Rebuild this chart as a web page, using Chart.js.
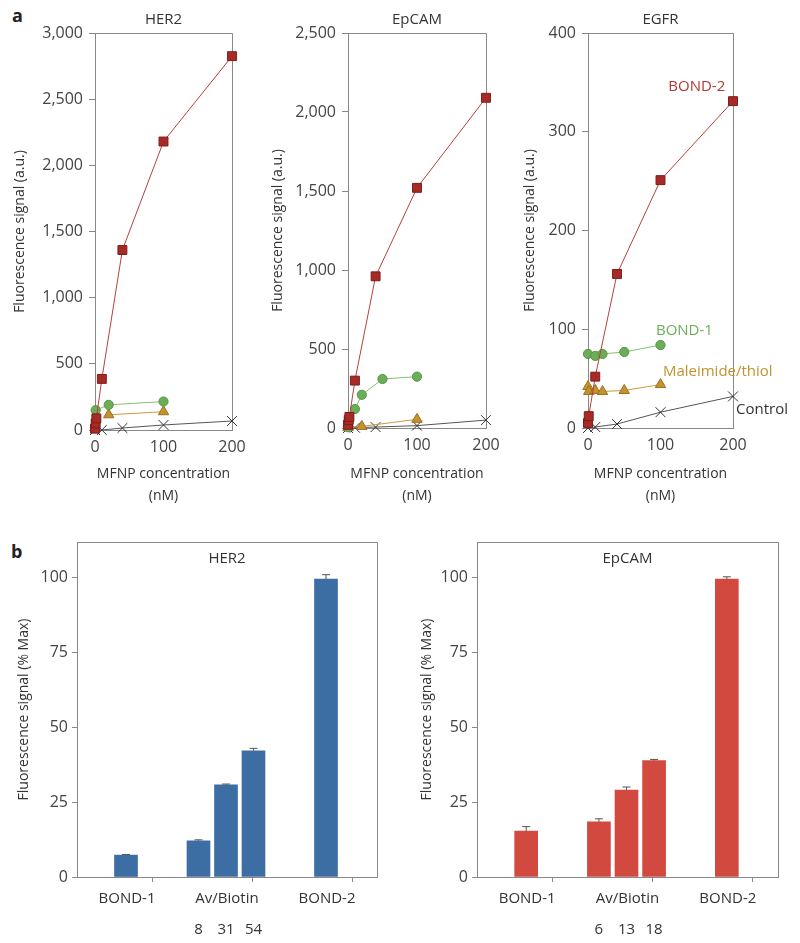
<!DOCTYPE html>
<html>
<head>
<meta charset="utf-8">
<script src="https://cdn.jsdelivr.net/npm/chart.js@4.4.1/dist/chart.umd.min.js"></script>
<style>
  body { margin: 0; background: #fff; }
  #page { position: relative; width: 800px; height: 943px; overflow: hidden; }
  canvas { position: absolute; }
  .tag { position: absolute; font: bold 18px 'Open Sans', sans-serif; color: #222; }
</style>
</head>
<body>
<div id="page">
  <div class="tag" style="left:12px;top:3px">a</div>
  <div class="tag" style="left:11px;top:539px">b</div>
  <canvas id="aHER2" width="260" height="510" style="left:0;top:0"></canvas>
  <canvas id="aEpCAM" width="258" height="510" style="left:262px;top:0"></canvas>
  <canvas id="aEGFR" width="280" height="510" style="left:520px;top:0"></canvas>
  <canvas id="bHER2" width="400" height="428" style="left:0;top:515px"></canvas>
  <canvas id="bEpCAM" width="400" height="428" style="left:400px;top:515px"></canvas>
</div>
<script>
// panel a: signal vs MFNP concentration (nM)
var seriesNames = ['BOND-2', 'BOND-1', 'Maleimide/thiol', 'Control'];

var her2Bond2X = [0, 1, 2, 10, 40, 100, 200];
var her2Bond2Y = [10, 50, 88, 386, 1360, 2180, 2825];
var her2Bond1X = [1, 20, 100];
var her2Bond1Y = [150, 190, 215];
var her2MalX = [20, 100];
var her2MalY = [115, 138];
var her2CtrlX = [0, 10, 40, 100, 200];
var her2CtrlY = [0, 0, 15, 38, 68];

var epcamBond2X = [0, 1, 2, 10, 40, 100, 200];
var epcamBond2Y = [20, 50, 70, 300, 960, 1520, 2090];
var epcamBond1X = [0, 1, 10, 20, 50, 100];
var epcamBond1Y = [5, 40, 120, 210, 310, 325];
var epcamMalX = [0, 20, 100];
var epcamMalY = [2, 10, 55];
var epcamCtrlX = [0, 10, 40, 100, 200];
var epcamCtrlY = [0, 2, 6, 15, 50];

var egfrBond2X = [0, 1, 10, 40, 100, 200];
var egfrBond2Y = [5, 12, 52, 156, 251, 331];
var egfrBond1X = [0, 10, 20, 50, 100];
var egfrBond1Y = [75, 73, 75, 77, 84];
var egfrMalX = [0, 1, 10, 20, 50, 100];
var egfrMalY = [42, 37, 38, 37, 38, 44];
var egfrCtrlX = [0, 10, 40, 100, 200];
var egfrCtrlY = [0, 1, 4, 16, 32];

// panel b: % of max signal
var groups = ['BOND-1', 'Av/Biotin', 'BOND-2'];
var barGroup = [0, 1, 1, 1, 2];
var barSlot = [0, -1, 0, 1, 0];
var her2Bars = [7.3, 12.1, 30.7, 42.1, 99.3];
var her2Err = [0.2, 0.3, 0.3, 0.8, 1.5];
var her2Sub = ['', '8', '31', '54', ''];
var epcamBars = [15.3, 18.4, 29.0, 38.8, 99.3];
var epcamErr = [1.5, 1.0, 1.0, 0.4, 0.8];
var epcamSub = ['', '6', '13', '18', ''];

Chart.defaults.font.family = "'Open Sans', sans-serif";
Chart.defaults.color = '#333';

var seriesLook = [
    { pointStyle: 'rect', pointRadius: 6.3, pointBackgroundColor: '#a82a26', pointBorderColor: '#7d1d1a', borderColor: '#b5413b' },
    { pointStyle: 'circle', pointRadius: 4.6, pointBackgroundColor: '#6cae58', pointBorderColor: '#54963f', borderColor: '#86c074' },
    { pointStyle: 'triangle', pointRadius: 6, pointBackgroundColor: '#c4922e', pointBorderColor: '#9d7020', borderColor: '#c99a3e' },
    { pointStyle: 'crossRot', pointRadius: 7, pointBackgroundColor: '#333', pointBorderColor: '#333', borderColor: '#555' }
];

var panelTitle = {
    id: 'panelTitle',
    afterDraw: function (chart, args, opts) {
        var ctx = chart.ctx, a = chart.chartArea;
        ctx.save();
        ctx.font = "15px 'Open Sans', sans-serif";
        ctx.fillStyle = '#333';
        ctx.textAlign = 'center';
        ctx.textBaseline = 'middle';
        ctx.fillText(opts.text, (a.left + a.right) / 2, a.top + opts.offset);
        ctx.restore();
    }
};

var frame = {
    id: 'frame',
    beforeDatasetsDraw: function (chart) {
        var ctx = chart.ctx, a = chart.chartArea;
        ctx.save();
        ctx.strokeStyle = '#888';
        ctx.lineWidth = 1;
        ctx.beginPath();
        ctx.moveTo(a.left, Math.round(a.top) + 0.5);
        ctx.lineTo(Math.round(a.right) + 0.5, Math.round(a.top) + 0.5);
        ctx.lineTo(Math.round(a.right) + 0.5, a.bottom);
        ctx.stroke();
        ctx.restore();
    }
};

var notes = {
    id: 'notes',
    afterDraw: function (chart, args, opts) {
        var ctx = chart.ctx;
        (opts.items || []).forEach(function (n) {
            ctx.save();
            ctx.font = "15px 'Open Sans', sans-serif";
            ctx.fillStyle = n.color;
            ctx.textAlign = 'center';
            ctx.textBaseline = 'middle';
            ctx.fillText(n.text, chart.scales.x.getPixelForValue(n.x), chart.scales.y.getPixelForValue(n.y));
            ctx.restore();
        });
    }
};

var errorBars = {
    id: 'errorBars',
    afterDatasetsDraw: function (chart) {
        var ctx = chart.ctx, y = chart.scales.y;
        chart.data.datasets.forEach(function (ds, di) {
            if (!ds.errors) return;
            chart.getDatasetMeta(di).data.forEach(function (bar, i) {
                var top = y.getPixelForValue(ds.data[i].y + ds.errors[i]);
                ctx.save();
                ctx.strokeStyle = ds.errorColor;
                ctx.lineWidth = 1;
                ctx.beginPath();
                ctx.moveTo(bar.x, bar.y);
                ctx.lineTo(bar.x, top);
                ctx.moveTo(bar.x - 4, top);
                ctx.lineTo(bar.x + 4, top);
                ctx.stroke();
                // sub labels under the bars
                if (ds.subs && ds.subs[i]) {
                    ctx.font = "15px 'Open Sans', sans-serif";
                    ctx.fillStyle = '#333';
                    ctx.textAlign = 'center';
                    ctx.textBaseline = 'middle';
                    ctx.fillText(ds.subs[i], bar.x, chart.chartArea.bottom + 53);
                }
                ctx.restore();
            });
        });
    }
};

function lineSets(xsList, ysList) {
    return xsList.map(function (xs, k) {
        return Object.assign({
            label: seriesNames[k],
            data: xs.map(function (x, i) { return { x: x, y: ysList[k][i] }; }),
            borderWidth: 1,
            pointBorderWidth: 1,
            tension: 0,
            clip: false
        }, seriesLook[k]);
    });
}

function linePanel(id, name, yMax, yStep, datasets, g, items) {
    return new Chart(document.getElementById(id), {
        type: 'line',
        data: { datasets: datasets },
        options: {
            responsive: false,
            animation: false,
            events: [],
            layout: { padding: { top: 33, right: g.padRight, left: 0, bottom: 0 } },
            plugins: {
                legend: { display: false },
                tooltip: { enabled: false },
                panelTitle: { text: name, offset: -13 },
                notes: { items: items || [] }
            },
            scales: {
                x: {
                    type: 'linear', min: 0, max: 200,
                    afterFit: function (s) { s.height = g.xHeight; },
                    ticks: { stepSize: 100, padding: 8, font: { size: 16 }, color: '#444' },
                    grid: { drawOnChartArea: false, drawTicks: false },
                    border: { color: '#888' },
                    title: { display: true, text: ['MFNP concentration', '(nM)'], font: { size: 14, lineHeight: 1.55 }, padding: { top: 0, bottom: 3 }, color: '#333' }
                },
                y: {
                    min: 0, max: yMax,
                    afterFit: function (s) { s.width = g.yWidth; },
                    ticks: { stepSize: yStep, padding: 6, font: { size: 16 }, color: '#444',
                        callback: function (v) { return v.toLocaleString('en-US'); } },
                    grid: { drawOnChartArea: false, tickLength: 6, color: '#888' },
                    border: { color: '#888' },
                    title: { display: true, text: 'Fluorescence signal (a.u.)', font: { size: 14 }, padding: { top: g.yTitlePad, bottom: 0 }, color: '#333' }
                }
            }
        },
        plugins: [frame, panelTitle, notes]
    });
}

function barPanel(id, name, values, errors, subs, color, g) {
    return new Chart(document.getElementById(id), {
        type: 'bar',
        data: {
            datasets: [{
                data: values.map(function (v, i) { return { x: barGroup[i] + 0.49 + barSlot[i] * 0.275, y: v }; }),
                backgroundColor: color,
                borderWidth: 0,
                barThickness: 23,
                errors: errors,
                errorColor: '#555',
                subs: subs
            }]
        },
        options: {
            responsive: false,
            animation: false,
            events: [],
            layout: { padding: { top: 27, right: g.padRight, left: 0, bottom: 0 } },
            plugins: {
                legend: { display: false },
                tooltip: { enabled: false },
                panelTitle: { text: name, offset: 17 }
            },
            scales: {
                x: {
                    type: 'linear', min: 0, max: 3, offset: false,
                    afterFit: function (s) { s.height = 66; },
                    afterBuildTicks: function (s) {
                        s.ticks = [0, 0.5, 1, 1.5, 2, 2.5, 3].map(function (v) { return { value: v }; });
                    },
                    ticks: { autoSkip: false, maxRotation: 0, padding: 8, font: { size: 15 }, color: '#333',
                        callback: function (v) { return Number.isInteger(v) ? '' : groups[Math.floor(v)]; } },
                    grid: { drawOnChartArea: false, tickLength: 5,
                        tickColor: function (c) { return c.tick && Number.isInteger(c.tick.value) ? '#888' : 'rgba(0,0,0,0)'; } },
                    border: { color: '#888' }
                },
                y: {
                    min: 0, max: 111.7,
                    afterFit: function (s) { s.width = 77; },
                    ticks: { stepSize: 25, includeBounds: false, padding: 4, font: { size: 16 }, color: '#444' },
                    grid: { drawOnChartArea: false, tickLength: 5, color: '#888' },
                    border: { color: '#888' },
                    title: { display: true, text: 'Fluorescence signal (% Max)', font: { size: 14 }, padding: { top: g.yTitlePad, bottom: 0 }, color: '#333' }
                }
            }
        },
        plugins: [frame, panelTitle, errorBars]
    });
}

linePanel('aHER2', 'HER2', 3000, 500,
    lineSets([her2Bond2X, her2Bond1X, her2MalX, her2CtrlX], [her2Bond2Y, her2Bond1Y, her2MalY, her2CtrlY]),
    { yWidth: 95, padRight: 28, xHeight: 80, yTitlePad: 12 });

linePanel('aEpCAM', 'EpCAM', 2500, 500,
    lineSets([epcamBond2X, epcamBond1X, epcamMalX, epcamCtrlX], [epcamBond2Y, epcamBond1Y, epcamMalY, epcamCtrlY]),
    { yWidth: 86, padRight: 34, xHeight: 82, yTitlePad: 8 });

linePanel('aEGFR', 'EGFR', 400, 100,
    lineSets([egfrBond2X, egfrBond1X, egfrMalX, egfrCtrlX], [egfrBond2Y, egfrBond1Y, egfrMalY, egfrCtrlY]),
    { yWidth: 68, padRight: 67, xHeight: 82, yTitlePad: 2 },
    [
        { text: 'BOND-2', x: 150, y: 346, color: '#b03a33' },
        { text: 'BOND-1', x: 133, y: 99, color: '#6cae58' },
        { text: 'Maleimide/thiol', x: 179, y: 57, color: '#c4922e' },
        { text: 'Control', x: 240, y: 19, color: '#333' }
    ]);

barPanel('bHER2', 'HER2', her2Bars, her2Err, her2Sub, '#3c6ea3', { padRight: 23, yTitlePad: 16 });
barPanel('bEpCAM', 'EpCAM', epcamBars, epcamErr, epcamSub, '#d1493f', { padRight: 22, yTitlePad: 19 });
</script>
</body>
</html>
